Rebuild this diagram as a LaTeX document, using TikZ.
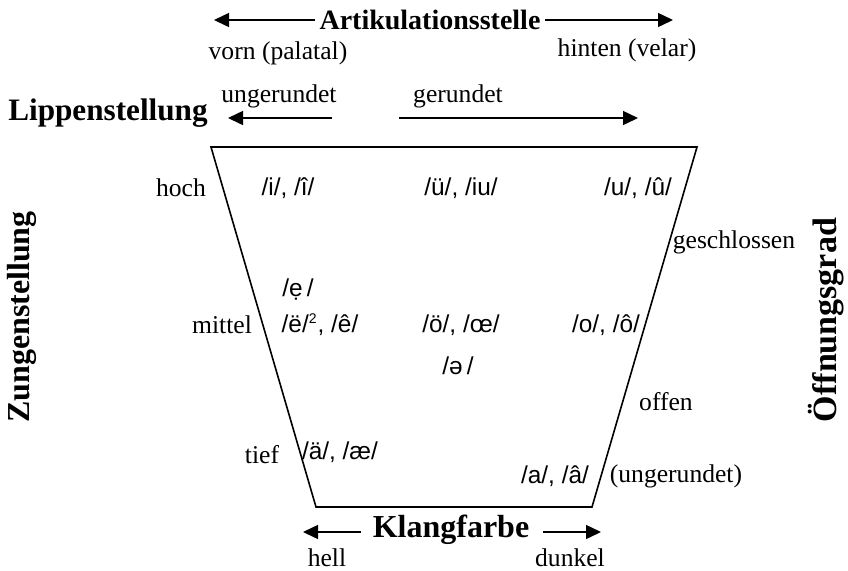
\documentclass[tikz,border=0pt]{standalone}
\usepackage{fontspec}
\setmainfont{Liberation Serif}
\newfontfamily\ipafont{Liberation Sans}
\usetikzlibrary{arrows.meta}

\tikzset{
  lbl/.style={inner sep=0pt, font=\fontsize{12.8}{15}\selectfont},
  vow/.style={inner sep=0pt, font=\ipafont\fontsize{12.2}{14}\selectfont},
  ttl/.style={inner sep=2pt, font=\bfseries\fontsize{16}{19}\selectfont},
  arr/.style={line width=0.75pt, -{Triangle[length=7.5pt,width=7pt]}},
  frame/.style={line width=0.8pt, line join=miter},
}

\begin{document}
\begin{tikzpicture}[x=0.5pt, y=-0.5pt]
\useasboundingbox (0,0) rectangle (848,570);

% vowel trapezoid
\coordinate (tl) at (211,147);
\coordinate (tr) at (697,147);
\coordinate (br) at (592,507);
\coordinate (bl) at (316,507);
\draw[frame] (tl) -- (tr) -- (br) -- (bl) -- cycle;

% place of articulation
\node[ttl, font=\bfseries\fontsize{14}{17}\selectfont] (art) at (430,20) {Artikulationsstelle};
\coordinate (artL) at (214,20);
\coordinate (artR) at (673,20);
\draw[arr] (art.west) -- (artL);
\draw[arr] (art.east) -- (artR);
\node[lbl] (vorn) at (278,53) {vorn (palatal)};
\node[lbl] (hinten) at (627,50) {hinten (velar)};

% lip rounding
\node[ttl, font=\bfseries\fontsize{15.6}{18}\selectfont] (lip) at (108,113) {Lippenstellung};
\node[lbl] (ung) at (279,96) {ungerundet};
\node[lbl] (ger) at (458,96) {gerundet};
\coordinate (ungA) at (332,118);
\coordinate (ungB) at (228,118);
\coordinate (gerA) at (399,118);
\coordinate (gerB) at (638,118);
\draw[arr] (ungA) -- (ungB);
\draw[arr] (gerA) -- (gerB);

% tongue height
\node[ttl, rotate=90] (zunge) at (22,317) {Zungenstellung};
\node[lbl] (hoch) at (181,188) {hoch};
\node[lbl] (mittel) at (222,325) {mittel};
\node[lbl] (tief) at (262,455) {tief};

% aperture
\node[ttl, font=\bfseries\fontsize{17}{20}\selectfont, rotate=90] (offn) at (826,320) {Öffnungsgrad};
\node[lbl] (geschl) at (734,242) {geschlossen};
\node[lbl] (offen) at (666,402) {offen};
\node[lbl] (ungr) at (676,476) {(ungerundet)};

% vowels
\node[vow] (vi) at (288,188) {/i/, /î/};
\node[vow] (vue) at (461,188) {/ü/, /iu/};
\node[vow] (vu) at (638,188) {/u/, /û/};
\node[vow] (ve) at (298,290) {/ẹ\,/};
\node[vow] (vee) at (320,325) {/ë/\textsuperscript{\fontsize{7}{8}\selectfont 2}, /ê/};
\node[vow] (voe) at (461,325) {/ö/, /œ/};
\node[vow] (vo) at (606,325) {/o/, /ô/};
\node[vow] (vschwa) at (458,366) {/ə\,/};
\node[vow] (vae) at (340,452) {/ä/, /æ/};
\node[vow] (va) at (555,476) {/a/, /â/};

% timbre
\node[ttl] (klang) at (451,530) {Klangfarbe};
\coordinate (klLs) at (361,532);
\coordinate (klL) at (303,532);
\coordinate (klRs) at (543,532);
\coordinate (klR) at (601,532);
\draw[arr] (klLs) -- (klL);
\draw[arr] (klRs) -- (klR);
\node[lbl] (hell) at (327,558) {hell};
\node[lbl] (dunkel) at (570,558) {dunkel};
\end{tikzpicture}
\end{document}
